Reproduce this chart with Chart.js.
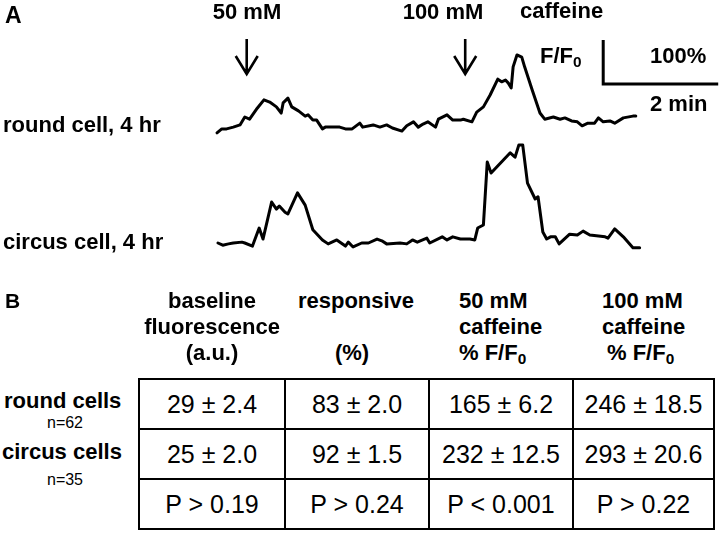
<!DOCTYPE html>
<html>
<head>
<meta charset="utf-8">
<script src="https://cdn.jsdelivr.net/npm/chart.js@4"></script>
<style>
  body { margin: 0; background: #fff; }
  #page { position: relative; width: 720px; height: 540px; overflow: hidden; font-family: "Liberation Sans", Arial, sans-serif; color: #000; }
  #traceBox { position: absolute; left: 0; top: 0; width: 720px; height: 270px; }
  .lbl { position: absolute; line-height: 1; white-space: nowrap; font-weight: bold; font-size: 22px; }
  .mid { transform: translateX(-50%); }
  .small { font-weight: normal; font-size: 16px; }
  sub { font-size: 0.7em; vertical-align: -0.25em; line-height: 0; }
  #stats { position: absolute; left: 138px; top: 378px; border-collapse: collapse; table-layout: fixed; }
  #stats td { border: 2px solid #000; height: 48px; padding: 0; text-align: center; font-size: 25px; line-height: 1; }
</style>
</head>
<body>
<div id="page">
  <div id="traceBox"><canvas id="traceChart" width="720" height="270"></canvas></div>
  <div id="labels"></div>
  <table id="stats"><tbody></tbody></table>
</div>
<script>
// Panel A: F/F0 traces, time in seconds from start of recording
const roundTime = [0, 5, 10, 17, 24, 29, 34, 42, 49, 55, 62, 67, 69, 74, 78, 85, 92, 95, 100, 104, 110, 113, 120, 128, 134, 141, 149, 152, 163, 170, 177, 183, 193, 198, 205, 210, 215, 220, 228, 231, 240, 246, 254, 257, 266, 271, 278, 285, 293, 297, 301, 304, 307, 309, 313, 318, 321, 329, 337, 342, 351, 358, 363, 370, 376, 381, 387, 394, 398, 403, 410, 415, 424, 434, 437];
const roundRatio = [0.89, 0.98, 0.98, 1.02, 1.07, 1.25, 1.2, 1.45, 1.64, 1.59, 1.48, 1.34, 1.57, 1.68, 1.48, 1.39, 1.27, 1.3, 1.18, 1.18, 0.98, 1.02, 1.02, 1.02, 0.98, 0.98, 1.11, 1.02, 1.07, 1.02, 1.07, 1.0, 0.93, 1.05, 1.14, 1.02, 1.09, 1.14, 1.02, 1.2, 1.3, 1.18, 1.18, 1.2, 1.14, 1.36, 1.48, 1.75, 2.11, 2.05, 2.09, 2.02, 1.91, 2.39, 2.66, 2.61, 2.39, 1.86, 1.34, 1.2, 1.25, 1.2, 1.23, 1.16, 1.14, 1.05, 1.11, 1.11, 1.23, 1.14, 1.16, 1.11, 1.23, 1.27, 1.27];
const circusTime = [1, 6, 12, 17, 26, 29, 37, 44, 48, 57, 62, 65, 71, 74, 84, 92, 100, 110, 116, 125, 134, 137, 142, 151, 158, 167, 172, 177, 191, 198, 204, 209, 219, 222, 235, 240, 246, 254, 264, 269, 272, 278, 282, 286, 306, 311, 315, 319, 324, 332, 335, 340, 344, 348, 353, 357, 368, 376, 382, 389, 405, 408, 415, 424, 434, 441];
const circusRatio = [1.0, 0.95, 0.98, 1.0, 1.02, 1.0, 0.93, 1.34, 1.09, 1.93, 1.77, 1.84, 1.7, 1.66, 2.14, 1.86, 1.3, 1.07, 0.98, 1.07, 0.93, 1.02, 0.91, 1.0, 1.0, 1.09, 1.05, 0.98, 1.0, 0.98, 1.07, 1.02, 1.11, 1.0, 1.14, 1.07, 1.14, 1.09, 1.09, 1.07, 1.34, 1.41, 2.84, 2.59, 3.05, 2.95, 3.23, 3.23, 2.36, 2.0, 2.05, 1.25, 1.09, 1.14, 1.14, 0.98, 1.2, 1.18, 1.27, 1.18, 1.14, 1.11, 1.32, 1.14, 0.89, 0.89];

// caffeine additions (s) and their labels
const stimulusTimes = [31, 259];
const stimulusLabels = ['50 mM', '100 mM'];

// scale bar: 2 min by 100% F/F0
const scaleBarSeconds = 120;
const scaleBarRatio = 1.0;

// Panel B: table
const rowNames = ['round cells', 'circus cells'];
const rowCounts = ['n=62', 'n=35'];
const baselineFluor = ['29 ± 2.4', '25 ± 2.0', 'P > 0.19'];
const responsivePct = ['83 ± 2.0', '92 ± 1.5', 'P > 0.24'];
const caffeine50 = ['165 ± 6.2', '232 ± 12.5', 'P < 0.001'];
const caffeine100 = ['246 ± 18.5', '293 ± 20.6', 'P > 0.22'];

// layout of panel A (pixels)
const H = 270;
const x0 = 217, pxPerSec = 115 / 120, pxPerUnit = 44;
const roundBase = 128, circusBase = 243;

function pts(t, v) { return t.map((s, i) => ({ x: s, y: v[i] })); }

const decorations = {
  id: 'decorations',
  afterDatasetsDraw(chart) {
    const ctx = chart.ctx, xs = chart.scales.x, yr = chart.scales.yRound;
    ctx.save();
    ctx.strokeStyle = '#000';
    ctx.lineCap = 'butt';
    // arrows
    ctx.lineWidth = 2.6;
    stimulusTimes.forEach(t => {
      const x = xs.getPixelForValue(t);
      ctx.beginPath();
      ctx.moveTo(x, 39); ctx.lineTo(x, 74);
      ctx.moveTo(x - 11, 56); ctx.lineTo(x, 74); ctx.lineTo(x + 11, 56);
      ctx.stroke();
    });
    // scale bar
    const sx = xs.getPixelForValue(403), ex = xs.getPixelForValue(403 + scaleBarSeconds);
    const by = yr.getPixelForValue(2.0), ty = yr.getPixelForValue(2.0 + scaleBarRatio);
    ctx.lineWidth = 3;
    ctx.beginPath();
    ctx.moveTo(sx, ty); ctx.lineTo(sx, by); ctx.lineTo(ex, by);
    ctx.stroke();
    ctx.restore();
  }
};

new Chart(document.getElementById('traceChart').getContext('2d'), {
  type: 'line',
  data: {
    datasets: [
      { label: 'round cell, 4 hr', data: pts(roundTime, roundRatio), yAxisID: 'yRound' },
      { label: 'circus cell, 4 hr', data: pts(circusTime, circusRatio), yAxisID: 'yCircus' }
    ]
  },
  options: {
    responsive: false,
    animation: false,
    layout: { padding: 0 },
    elements: {
      line: { borderColor: '#000', borderWidth: 3, tension: 0, borderJoinStyle: 'round', borderCapStyle: 'round' },
      point: { radius: 0 }
    },
    scales: {
      x: { type: 'linear', display: false, min: -x0 / pxPerSec, max: (720 - x0) / pxPerSec },
      yRound: { display: false, min: 1 - (H - roundBase) / pxPerUnit, max: 1 + roundBase / pxPerUnit },
      yCircus: { display: false, min: 1 - (H - circusBase) / pxPerUnit, max: 1 + circusBase / pxPerUnit }
    },
    plugins: { legend: { display: false }, tooltip: { enabled: false } }
  },
  plugins: [decorations]
});

// text labels
const labels = document.getElementById('labels');
function addLabel(html, left, top, cls, size) {
  const d = document.createElement('div');
  d.className = 'lbl ' + (cls || '');
  d.style.left = left + 'px';
  d.style.top = top + 'px';
  if (size) d.style.fontSize = size + 'px';
  d.innerHTML = html;
  labels.appendChild(d);
}
addLabel('A', 5, 4, '', 23);
addLabel(stimulusLabels[0], 247, 1, 'mid');
addLabel(stimulusLabels[1], 443, 1, 'mid');
addLabel('caffeine', 520, 0);
addLabel('F/F<sub>0</sub>', 540, 45);
addLabel('100%', 650, 45);
addLabel('2 min', 650, 93);
addLabel('round cell, 4 hr', 3, 114);
addLabel('circus cell, 4 hr', 3, 231);

addLabel('B', 5, 290, '', 21);
addLabel('baseline', 212, 290, 'mid');
addLabel('fluorescence', 212, 316, 'mid');
addLabel('(a.u.)', 212, 342, 'mid');
addLabel('responsive', 356, 290, 'mid');
addLabel('(%)', 352, 342, 'mid');
addLabel('50 mM', 459, 290);
addLabel('caffeine', 459, 316);
addLabel('% F/F<sub>0</sub>', 459, 342);
addLabel('100 mM', 602, 290);
addLabel('caffeine', 602, 316);
addLabel('% F/F<sub>0</sub>', 607, 342);

addLabel(rowNames[0], 4, 390);
addLabel(rowCounts[0], 65, 415, 'mid small');
addLabel(rowNames[1], 2, 441);
addLabel(rowCounts[1], 65, 472, 'mid small');

// table body
const widths = [146, 144, 144, 141];
const tbody = document.querySelector('#stats tbody');
for (let r = 0; r < 3; r++) {
  const tr = document.createElement('tr');
  [baselineFluor, responsivePct, caffeine50, caffeine100].forEach((col, c) => {
    const td = document.createElement('td');
    td.style.width = (widths[c] - 2) + 'px';
    td.textContent = col[r];
    tr.appendChild(td);
  });
  tbody.appendChild(tr);
}
</script>
</body>
</html>
